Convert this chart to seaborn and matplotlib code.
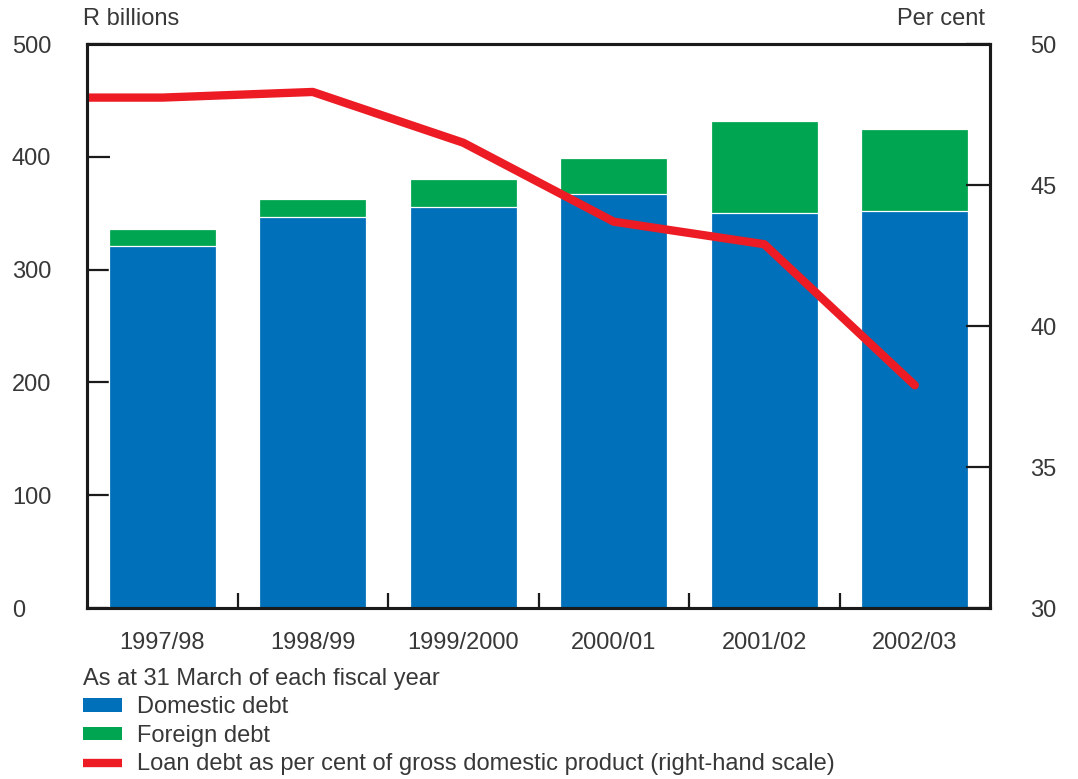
import numpy as np
import pandas as pd
import seaborn as sns
import matplotlib.pyplot as plt
from matplotlib.patches import Patch
from matplotlib.lines import Line2D

# Government loan debt, as at 31 March of each fiscal year
years = ["1997/98", "1998/99", "1999/2000", "2000/01", "2001/02", "2002/03"]
domestic_debt = [321, 347, 355.5, 367, 350, 352]      # R billions
foreign_debt = [15, 16, 25, 32, 82, 73]               # R billions
debt_pct_gdp = [48.1, 48.3, 46.5, 43.7, 42.9, 37.9]   # per cent of GDP

BLUE = "#0070BA"
GREEN = "#00A551"
RED = "#ED1C24"
TEXT = "#383838"
AXIS = "#1a1a1a"

sns.set_theme(style="white")
plt.rcParams["font.family"] = ["Liberation Sans", "DejaVu Sans"]
plt.rcParams["text.color"] = TEXT
FS = 17

pos = np.arange(len(years))
df = pd.DataFrame({
    "pos": pos,
    "year": years,
    "domestic": domestic_debt,
    "total": np.array(domestic_debt) + np.array(foreign_debt),
})

fig = plt.figure(figsize=(10.78, 7.79), dpi=100)
ax = fig.add_axes([0.0807, 0.2195, 0.9184 - 0.0807, 0.9435 - 0.2195])

# stacked bars: total (foreign on top) first, domestic drawn over it
sns.barplot(data=df, x="pos", y="total", native_scale=True, color=GREEN,
            saturation=1, width=0.71, edgecolor="white", linewidth=0.9, ax=ax)
sns.barplot(data=df, x="pos", y="domestic", native_scale=True, color=BLUE,
            saturation=1, width=0.71, edgecolor="white", linewidth=0.9, ax=ax)

ax.set_xlim(-0.5, len(years) - 0.5)
ax.set_ylim(0, 500)
ax.set_yticks(np.arange(0, 501, 100))
ax.set_xticks(pos)
ax.set_xticklabels(years)
ax.set_xticks(pos[:-1] + 0.5, minor=True)
ax.set_xlabel("")
ax.set_ylabel("")

# line on the right-hand scale, carried flat to the left edge
ax2 = ax.twinx()
line_x = np.concatenate([[pos[0] - 0.5], pos])
line_y = [debt_pct_gdp[0]] + debt_pct_gdp
sns.lineplot(x=line_x, y=line_y, sort=False, color=RED, linewidth=6,
             solid_capstyle="round", ax=ax2)
ax2.set_ylim(30, 50)
ax2.set_yticks(np.arange(30, 51, 5))
ax2.set_xlim(-0.5, len(years) - 0.5)
ax2.set_ylabel("")

for a in (ax, ax2):
    for side, sp in a.spines.items():
        sp.set_visible(True)
        sp.set_color(AXIS)
        sp.set_linewidth(2.2)
    a.grid(False)

ax.tick_params(axis="y", direction="in", length=16.5, width=1.6, color=AXIS,
               labelsize=FS, labelcolor=TEXT, pad=54, left=True)
for lbl in ax.get_yticklabels():
    lbl.set_horizontalalignment("left")
ax.tick_params(axis="x", which="major", length=0, labelsize=FS,
               labelcolor=TEXT, pad=17)
ax.tick_params(axis="x", which="minor", direction="in", length=11,
               width=1.6, color=AXIS, bottom=True)
ax2.tick_params(axis="y", direction="in", length=17, width=1.6, color=AXIS,
                labelsize=FS, labelcolor=TEXT, pad=29, right=True)

fig.text(83 / 1078, 1 - 19 / 779, "R billions", fontsize=FS, color=TEXT,
         ha="left", va="center")
fig.text(985 / 1078, 1 - 19 / 779, "Per cent", fontsize=FS, color=TEXT,
         ha="right", va="center")

handles = [
    Patch(facecolor=BLUE, edgecolor="none"),
    Patch(facecolor=GREEN, edgecolor="none"),
    Line2D([0], [0], color=RED, linewidth=6, solid_capstyle="butt"),
]
labels = ["Domestic debt", "Foreign debt",
          "Loan debt as per cent of gross domestic product (right-hand scale)"]
leg = fig.legend(handles, labels, loc="upper left",
                 bbox_to_anchor=(83 / 1078, 1 - 668 / 779),
                 frameon=False, fontsize=FS, title="As at 31 March of each fiscal year",
                 title_fontsize=FS, alignment="left", borderpad=0,
                 borderaxespad=0, handlelength=1.65, handleheight=0.5,
                 handletextpad=0.65, labelspacing=0.27)
for t in leg.get_texts():
    t.set_color(TEXT)
leg.get_title().set_color(TEXT)

fig.savefig("out.png", dpi=100)
